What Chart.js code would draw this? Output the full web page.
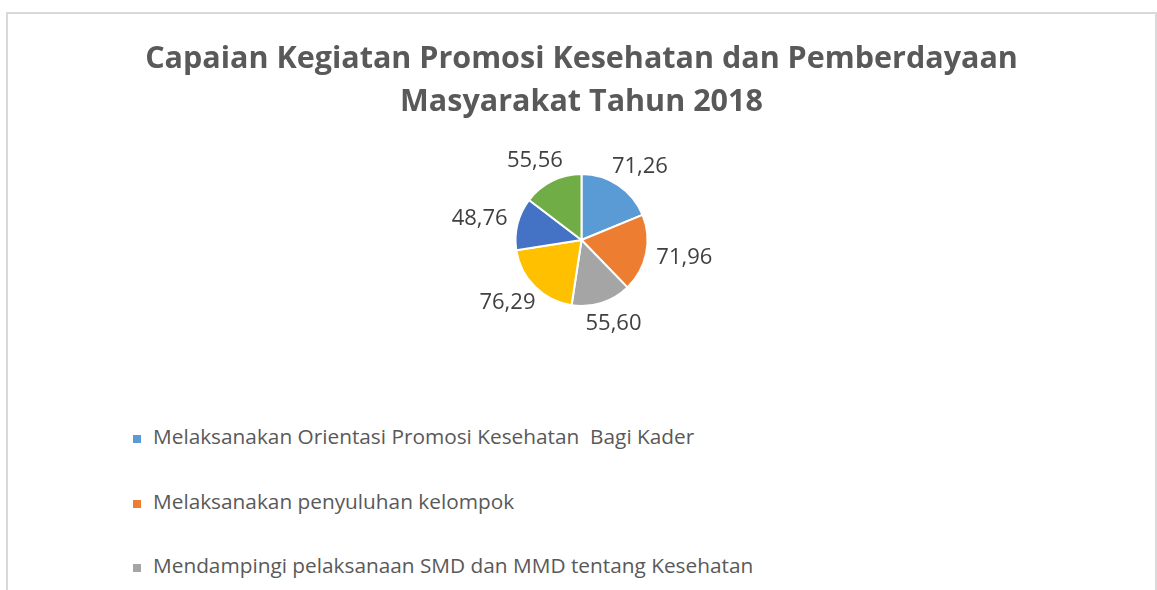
<!DOCTYPE html>
<html>
<head>
<meta charset="utf-8">
<script src="https://cdn.jsdelivr.net/npm/chart.js@4"></script>
<style>
    html, body { margin: 0; padding: 0; background: #fff; overflow: hidden; }
    #frame {
        position: absolute; left: 6px; top: 12px; width: 1147px; height: 640px;
        border: 2px solid #d9d9d9; border-bottom: none;
    }
    #chartBox { position: absolute; left: 0; top: 0; width: 1147px; height: 366px; }
    #legend {
        position: absolute; left: 125px; top: 390px; margin: 0; padding: 0; list-style: none;
        font-family: "Open Sans", sans-serif; font-size: 20.8px; color: #595959;
    }
    #legend li { height: 64.5px; line-height: 64.5px; white-space: pre; }
    #legend span.box { display: inline-block; width: 8px; height: 8px; margin-right: 12px; vertical-align: 1px; }
</style>
</head>
<body>
<div id="frame">
    <div id="chartBox"><canvas id="pieChart"></canvas></div>
    <ul id="legend"></ul>
</div>
<script>
const titleLines = ['Capaian Kegiatan Promosi Kesehatan dan Pemberdayaan', 'Masyarakat Tahun 2018'];
const categories = [
    'Melaksanakan Orientasi Promosi Kesehatan  Bagi Kader',
    'Melaksanakan penyuluhan kelompok',
    'Mendampingi pelaksanaan SMD dan MMD tentang Kesehatan',
    'Kegiatan 4',
    'Kegiatan 5',
    'Kegiatan 6'
];
const values = [71.26, 71.96, 55.60, 76.29, 48.76, 55.56];
const sliceColors = ['#5B9BD5', '#ED7D31', '#A5A5A5', '#FFC000', '#4472C4', '#70AD47'];

// labels outside each slice, like Excel "outside end"
const outsideLabels = {
    id: 'outsideLabels',
    afterDatasetsDraw(chart) {
        const ctx = chart.ctx;
        const meta = chart.getDatasetMeta(0);
        ctx.save();
        ctx.font = '22px "Open Sans", sans-serif';
        ctx.fillStyle = '#404040';
        ctx.textAlign = 'center';
        ctx.textBaseline = 'middle';
        meta.data.forEach((arc, i) => {
            const p = arc.getProps(['x', 'y', 'startAngle', 'endAngle', 'outerRadius'], true);
            const mid = (p.startAngle + p.endAngle) / 2;
            const dx = Math.cos(mid), dy = Math.sin(mid);
            const text = values[i].toFixed(2).replace('.', ',');
            const w = ctx.measureText(text).width;
            const h = 22;
            const r = p.outerRadius + 11;
            ctx.fillText(text, p.x + dx * (r + w / 2), p.y + dy * (r + h / 2));
        });
        ctx.restore();
    }
};

const ctx = document.getElementById('pieChart').getContext('2d');
const chart = new Chart(ctx, {
    type: 'pie',
    data: {
        labels: categories,
        datasets: [{
            data: values,
            backgroundColor: sliceColors,
            borderColor: '#ffffff',
            borderWidth: 2,
            radius: 66
        }]
    },
    options: {
        responsive: true,
        maintainAspectRatio: false,
        animation: false,
        layout: { padding: { bottom: 34 } },
        plugins: {
            legend: { display: false },
            tooltip: { enabled: false },
            title: {
                display: true,
                text: titleLines,
                color: '#595959',
                font: { family: '"Open Sans", sans-serif', size: 30.5, weight: 'bold', lineHeight: 1.41 },
                padding: { top: 24, bottom: 10 }
            }
        }
    },
    plugins: [outsideLabels]
});

// html legend, one item per row
const legendEl = document.getElementById('legend');
chart.options.plugins.legend.labels.generateLabels(chart).forEach(item => {
    const li = document.createElement('li');
    const box = document.createElement('span');
    box.className = 'box';
    box.style.background = item.fillStyle;
    li.appendChild(box);
    li.appendChild(document.createTextNode(item.text));
    legendEl.appendChild(li);
});
</script>
</body>
</html>
